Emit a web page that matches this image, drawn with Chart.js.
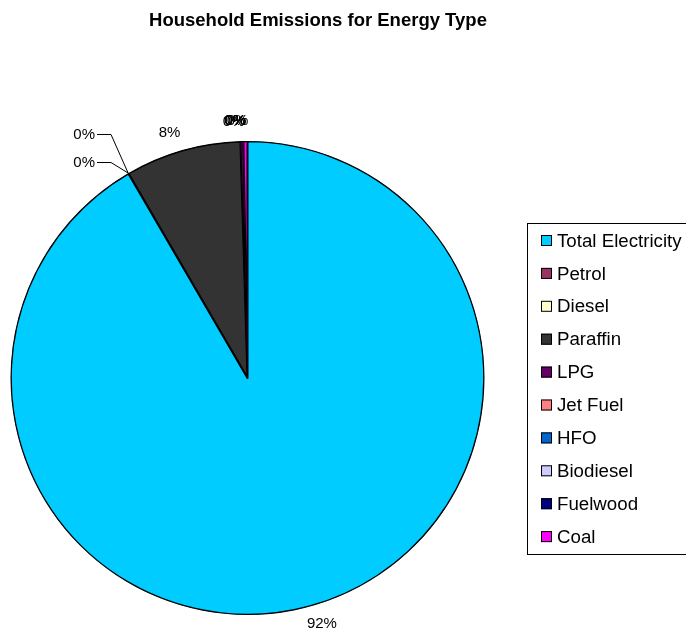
<!DOCTYPE html>
<html>
<head>
<meta charset="utf-8">
<title>Household Emissions for Energy Type</title>
<script src="https://cdn.jsdelivr.net/npm/chart.js@4/dist/chart.umd.min.js"></script>
<style>
	html, body { margin: 0; padding: 0; background: #fff; }
	#wrap { width: 686px; height: 632px; position: relative; }
</style>
</head>
<body>
<div id="wrap"><canvas id="myChart"></canvas></div>
<script>
// share of household emissions by energy type (%)
var energyTypes = ['Total Electricity', 'Petrol', 'Diesel', 'Paraffin', 'LPG', 'Jet Fuel', 'HFO', 'Biodiesel', 'Fuelwood', 'Coal'];
var emissionShare = [91.6, 0.01, 0.01, 7.9, 0.2, 0, 0, 0, 0.01, 0.27];
var sliceColours = ['#00CCFF', '#993366', '#FFFFCC', '#333333', '#660066', '#FF8080', '#0066CC', '#CCCCFF', '#000080', '#FF00FF'];

var FONT = '"Liberation Sans", Arial, sans-serif';

function pct(i) {
	var total = emissionShare.reduce(function (a, b) { return a + b; }, 0);
	return Math.round(emissionShare[i] / total * 100) + '%';
}

// title, percentage labels (with leader lines for the crowded ones) and boxed legend
var excelBits = {
	id: 'excelBits',
	afterDraw: function (chart, args, opts) {
		var ctx = chart.ctx;
		ctx.save();

		ctx.fillStyle = '#000';
		ctx.font = 'bold 18.5px ' + FONT;
		ctx.textAlign = 'center';
		ctx.textBaseline = 'alphabetic';
		ctx.fillText('Household Emissions for Energy Type', 318, 26);

		ctx.font = '15px ' + FONT;
		ctx.textBaseline = 'middle';
		var arcs = chart.getDatasetMeta(0).data;
		arcs.forEach(function (arc, i) {
			var p = arc.getProps(['x', 'y', 'startAngle', 'endAngle', 'outerRadius'], true);
			var mid = (p.startAngle + p.endAngle) / 2;
			var text = pct(i);
			var co = opts.callouts[i];
			if (co) {
				var ex = p.x + Math.cos(mid) * p.outerRadius;
				var ey = p.y + Math.sin(mid) * p.outerRadius;
				ctx.textAlign = 'right';
				ctx.fillText(text, co.x, co.y + 1);
				ctx.strokeStyle = '#000';
				ctx.lineWidth = 1;
				ctx.beginPath();
				ctx.moveTo(co.x + 2, co.y + 0.5);
				ctx.lineTo(co.x + 16, co.y + 0.5);
				ctx.lineTo(ex, ey);
				ctx.stroke();
			} else {
				var a = mid + opts.labelTurn;
				var r = p.outerRadius + opts.labelGap;
				ctx.textAlign = 'center';
				ctx.fillText(text, p.x + Math.cos(a) * r, p.y + Math.sin(a) * r);
			}
		});

		// legend
		var lg = opts.legend;
		ctx.strokeStyle = '#000';
		ctx.lineWidth = 1;
		ctx.strokeRect(lg.left + 0.5, lg.top + 0.5, lg.width, lg.height);
		ctx.font = '18.7px ' + FONT;
		ctx.textAlign = 'left';
		energyTypes.forEach(function (name, i) {
			var cy = lg.firstRow + i * lg.rowGap;
			ctx.fillStyle = sliceColours[i];
			ctx.fillRect(lg.left + 14, cy - 5.5, 11, 11);
			ctx.strokeRect(lg.left + 14.5, cy - 5, 10, 10);
			ctx.fillStyle = '#000';
			ctx.fillText(name, lg.left + 30, cy + 1);
		});

		ctx.restore();
	}
};

var ctx = document.getElementById('myChart').getContext('2d');
var myPieChart = new Chart(ctx, {
	type: 'pie',
	data: {
		labels: energyTypes,
		datasets: [{
			data: emissionShare,
			backgroundColor: sliceColours,
			borderColor: '#000',
			borderWidth: 1,
			borderAlign: 'inner'
		}]
	},
	options: {
		responsive: true,
		maintainAspectRatio: false,
		animation: false,
		layout: { padding: { left: 10, right: 201, top: 141, bottom: 17 } },
		plugins: {
			legend: { display: false },
			tooltip: { enabled: false },
			title: { display: false },
			excelBits: {
				labelGap: 20,
				labelTurn: -0.03,
				callouts: { 1: { x: 95, y: 134 }, 2: { x: 95, y: 162 } },
				legend: { left: 527, top: 223, width: 170, height: 331, firstRow: 240.5, rowGap: 32.9 }
			}
		}
	},
	plugins: [excelBits]
});
</script>
</body>
</html>
